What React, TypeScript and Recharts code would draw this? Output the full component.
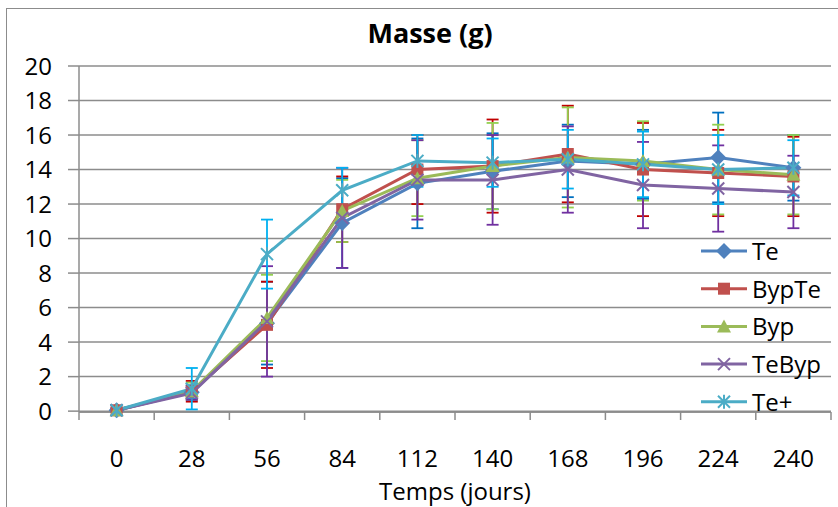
import React from 'react';
import {
  LineChart,
  Line,
  XAxis,
  YAxis,
  CartesianGrid,
  ErrorBar,
  Legend,
} from 'recharts';

const days = ['0', '28', '56', '84', '112', '140', '168', '196', '224', '240'];
const yTicks = [0, 2, 4, 6, 8, 10, 12, 14, 16, 18, 20];

const te = [0.05, 1.1, 5.1, 10.9, 13.2, 13.9, 14.5, 14.3, 14.7, 14.1];
const teErr = [0.1, 0.4, 2.4, 2.6, 2.6, 2.2, 2.1, 2.0, 2.6, 1.9];
const bypTe = [0.05, 1.15, 5.0, 11.7, 14.0, 14.2, 14.9, 14.0, 13.8, 13.6];
const bypTeErr = [0.1, 0.6, 2.5, 1.9, 2.0, 2.7, 2.8, 2.7, 2.5, 2.3];
const byp = [0.05, 1.15, 5.4, 11.6, 13.5, 14.2, 14.7, 14.5, 14.0, 13.7];
const bypErr = [0.1, 0.5, 2.5, 1.8, 2.2, 2.5, 2.9, 2.3, 2.6, 2.3];
const teByp = [0.05, 1.05, 5.2, 11.2, 13.4, 13.4, 14.0, 13.1, 12.9, 12.7];
const teBypErr = [0.1, 0.4, 3.2, 2.9, 2.3, 2.6, 2.5, 2.5, 2.5, 2.1];
const tePlus = [0.05, 1.3, 9.1, 12.8, 14.5, 14.4, 14.6, 14.3, 14.0, 14.1];
const tePlusErr = [0.1, 1.2, 2.0, 1.3, 1.5, 1.4, 1.7, 1.9, 2.0, 1.6];

const data = days.map((d, i) => ({
  day: d,
  te: te[i], teErr: teErr[i],
  bypTe: bypTe[i], bypTeErr: bypTeErr[i],
  byp: byp[i], bypErr: bypErr[i],
  teByp: teByp[i], teBypErr: teBypErr[i],
  tePlus: tePlus[i], tePlusErr: tePlusErr[i],
}));

const series = [
  { key: 'te', name: 'Te', color: '#4F81BD', err: '#0070C0', shape: 'diamond' },
  { key: 'bypTe', name: 'BypTe', color: '#C0504D', err: '#C00000', shape: 'square' },
  { key: 'byp', name: 'Byp', color: '#9BBB59', err: '#92D050', shape: 'triangle' },
  { key: 'teByp', name: 'TeByp', color: '#8064A2', err: '#7030A0', shape: 'x' },
  { key: 'tePlus', name: 'Te+', color: '#4BACC6', err: '#00B0F0', shape: 'star' },
];

const W = 838;
const H = 507;
const LEFT = 79;
const RIGHT = 7;
const BAND = (W - LEFT - RIGHT) / days.length;
const FONT = '"Open Sans", sans-serif';
const GRID = '#8C8C8C';

const Marker = ({ cx, cy, shape, color }: any) => {
  if (cx == null || cy == null) return null;
  switch (shape) {
    case 'diamond':
      return <polygon points={`${cx},${cy - 8} ${cx + 8},${cy} ${cx},${cy + 8} ${cx - 8},${cy}`} fill={color} />;
    case 'square':
      return <rect x={cx - 6} y={cy - 6} width={12} height={12} fill={color} />;
    case 'triangle':
      return <polygon points={`${cx},${cy - 7} ${cx + 7},${cy + 6} ${cx - 7},${cy + 6}`} fill={color} />;
    case 'x':
      return (
        <g stroke={color} strokeWidth={2}>
          <line x1={cx - 6} y1={cy - 6} x2={cx + 6} y2={cy + 6} />
          <line x1={cx - 6} y1={cy + 6} x2={cx + 6} y2={cy - 6} />
        </g>
      );
    default:
      return (
        <g stroke={color} strokeWidth={2}>
          <line x1={cx - 6} y1={cy - 6} x2={cx + 6} y2={cy + 6} />
          <line x1={cx - 6} y1={cy + 6} x2={cx + 6} y2={cy - 6} />
          <line x1={cx} y1={cy - 7} x2={cx} y2={cy + 7} />
        </g>
      );
  }
};

const XTick = ({ x, y, payload, index }: any) => (
  <g>
    <line x1={x - BAND / 2} y1={y} x2={x - BAND / 2} y2={y + 8} stroke={GRID} strokeWidth={1.5} />
    {index === days.length - 1 && (
      <line x1={x + BAND / 2} y1={y} x2={x + BAND / 2} y2={y + 8} stroke={GRID} strokeWidth={1.5} />
    )}
    <text x={x} y={y + 55} textAnchor="middle" fontSize={24} fontFamily={FONT} fill="#000">
      {payload.value}
    </text>
  </g>
);

const LegendBox = () => (
  <svg width={135} height={200}>
    {series.map((s, i) => {
      const cy = 17 + i * 37.7;
      return (
        <g key={s.key}>
          <line x1={1} y1={cy} x2={47} y2={cy} stroke={s.color} strokeWidth={3} />
          <Marker cx={24} cy={cy} shape={s.shape} color={s.color} />
          <text x={52} y={cy + 9} fontSize={24} fontFamily={FONT} fill="#000">{s.name}</text>
        </g>
      );
    })}
  </svg>
);

export default function App() {
  return (
    <div style={{ position: 'absolute', left: 0, top: 0, width: W, height: H, background: '#fff', overflow: 'hidden' }}>
      <div style={{ position: 'absolute', left: 6, top: 8, width: W, height: H, border: '1.5px solid #8C8C8C' }} />
      <LineChart
        width={W}
        height={H}
        data={data}
        margin={{ top: 66, right: RIGHT, left: 0, bottom: 0 }}
      >
        <CartesianGrid vertical={false} stroke={GRID} strokeWidth={1.5} />
        <XAxis
          dataKey="day"
          height={95}
          padding={{ left: BAND / 2, right: BAND / 2 }}
          axisLine={{ stroke: GRID, strokeWidth: 1.5 }}
          tickLine={false}
          tickSize={0}
          tickMargin={0}
          interval={0}
          tick={<XTick />}
        />
        <YAxis
          width={LEFT}
          domain={[0, 20]}
          ticks={yTicks}
          interval={0}
          axisLine={{ stroke: GRID, strokeWidth: 1.5 }}
          tickLine={{ stroke: GRID, strokeWidth: 1.5 }}
          tickSize={11}
          tickMargin={16}
          tick={{ fill: '#000', fontSize: 24, fontFamily: FONT }}
        />
        <Legend
          layout="horizontal"
          align="center"
          verticalAlign="middle"
          wrapperStyle={{ position: 'absolute', left: 700, top: 234, width: 135 }}
          content={<LegendBox />}
        />
        {series.map((s) => (
          <Line
            key={s.key}
            dataKey={s.key}
            name={s.name}
            stroke={s.color}
            strokeWidth={3}
            isAnimationActive={false}
            dot={(p: any) => <Marker key={`${s.key}-${p.index}`} cx={p.cx} cy={p.cy} shape={s.shape} color={s.color} />}
            activeDot={false}
          >
            <ErrorBar dataKey={`${s.key}Err`} width={6} stroke={s.err} strokeWidth={1.8} direction="y" />
          </Line>
        ))}
        <text x={430} y={43} textAnchor="middle" fontSize={27} fontWeight="bold" fontFamily={FONT} fill="#000">
          Masse (g)
        </text>
        <text x={455} y={500} textAnchor="middle" fontSize={24} fontFamily={FONT} fill="#000">
          Temps (jours)
        </text>
      </LineChart>
    </div>
  );
}
